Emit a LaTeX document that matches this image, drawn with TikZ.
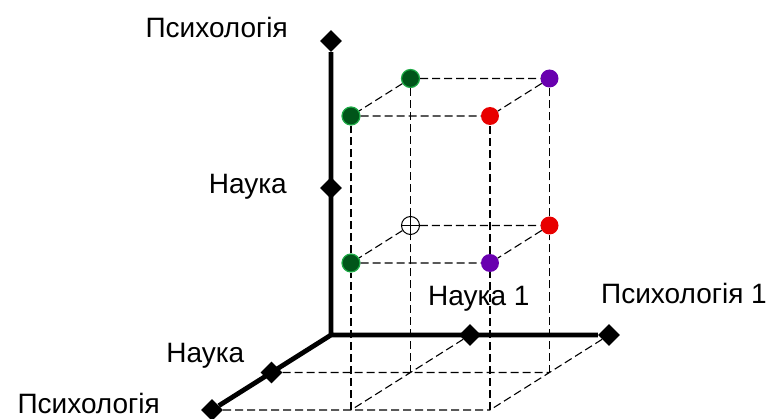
\documentclass[tikz,border=0pt]{standalone}
\usepackage{fontspec}
\setmainfont{Liberation Sans}
\usetikzlibrary{shapes.geometric}
\definecolor{dotgreen}{RGB}{0,85,25}
\definecolor{dotgreenrim}{RGB}{30,170,70}
\definecolor{dotred}{RGB}{232,0,0}
\definecolor{dotviolet}{RGB}{105,0,175}
\tikzset{
  axisline/.style={line width=4.8pt},
  axtick/.style={diamond, fill=black, inner sep=0pt, minimum size=22pt},
  gridline/.style={dash pattern=on 8pt off 4pt, line width=1.1pt},
  dot/.style={circle, inner sep=0pt, minimum size=18pt},
  greendot/.style={dot, fill=dotgreen, draw=dotgreenrim, line width=1.2pt},
  reddot/.style={dot, fill=dotred},
  violetdot/.style={dot, fill=dotviolet},
  hollowdot/.style={dot, draw, fill=white, line width=1pt,
    path picture={\draw[line width=1pt] (path picture bounding box.north) -- (path picture bounding box.south)
      (path picture bounding box.west) -- (path picture bounding box.east);}},
  lbl/.style={inner sep=0pt, font=\fontsize{28}{28}\selectfont}
}
\begin{document}
\begin{tikzpicture}[x={(139pt,0pt)}, y={(0pt,147pt)}, z={(-59.5pt,-37.5pt)}]
\useasboundingbox (-331pt,-83pt) rectangle (438pt,335pt);
\coordinate (O) at (0,0,0);
\coordinate (f101) at (1,0,1);
\coordinate (f102) at (1,0,2);
\coordinate (f201) at (2,0,1);
\coordinate (f202) at (2,0,2);
\node[axtick] (y1) at (0,1,0) {};
\node[axtick] (y2) at (0,2,0) {};
\node[axtick] (x1) at (1,0,0) {};
\node[axtick] (x2) at (2,0,0) {};
\node[axtick] (z1) at (0,0,1) {};
\node[axtick] (z2) at (0,0,2) {};
\node[hollowdot] (p111) at (1,1,1) {};
\node[greendot] (p112) at (1,1,2) {};
\node[greendot] (p121) at (1,2,1) {};
\node[greendot] (p122) at (1,2,2) {};
\node[reddot] (p211) at (2,1,1) {};
\node[violetdot] (p212) at (2,1,2) {};
\node[violetdot] (p221) at (2,2,1) {};
\node[reddot] (p222) at (2,2,2) {};
\draw[gridline] (z1) -- (f201) (z2) -- (f202) (x1) -- (f102) (x2) -- (f202);
\draw[gridline] (f101) -- (p111) (p111) -- (p121);
\draw[gridline] (f102) -- (p112) (p112) -- (p122);
\draw[gridline] (f201) -- (p211) (p211) -- (p221);
\draw[gridline] (f202) -- (p212) (p212) -- (p222);
\draw[gridline] (p121) -- (p221) (p122) -- (p222) (p121) -- (p122) (p221) -- (p222);
\draw[gridline] (p111) -- (p211) (p112) -- (p212) (p111) -- (p112) (p211) -- (p212);
\draw[axisline] (O) -- (y2) (O) -- (x2) (O) -- (z2);
\node[lbl, anchor=base east] (ly2) at ([xshift=-43pt, yshift=3pt]y2.center) {Психологія};
\node[lbl, anchor=base east] (ly1) at ([xshift=-44pt, yshift=-6pt]y1.center) {Наука};
\node[lbl, anchor=base west] (lx1) at ([xshift=-42pt, yshift=30pt]x1.center) {Наука 1};
\node[lbl, anchor=base west] (lx2) at ([xshift=-8pt, yshift=31pt]x2.center) {Психологія 1};
\node[lbl, anchor=base east] (lz1) at ([xshift=-27pt, yshift=10pt]z1.center) {Наука};
\node[lbl, anchor=base east] (lz2) at ([xshift=-52pt, yshift=-3pt]z2.center) {Психологія};
\end{tikzpicture}
\end{document}
